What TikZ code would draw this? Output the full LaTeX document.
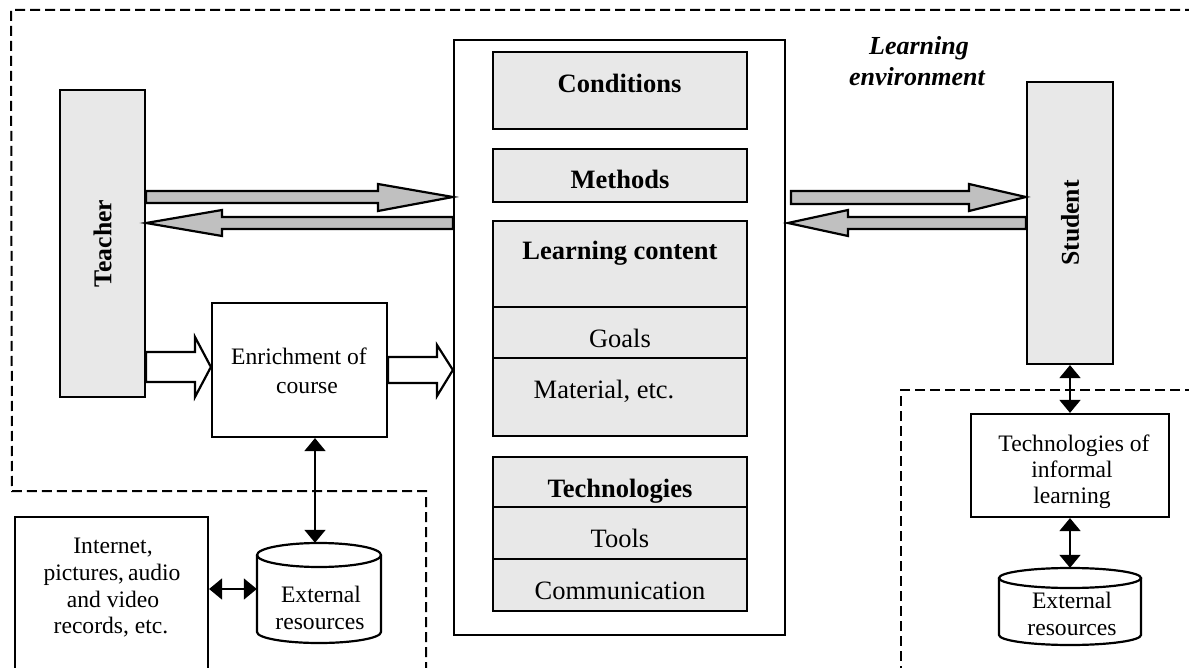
\documentclass[tikz,border=0pt]{standalone}
\usepackage{fontspec}
\setmainfont{Liberation Serif}
\usetikzlibrary{arrows.meta,calc}
\definecolor{boxgray}{RGB}{232,232,232}
\definecolor{arrowgray}{RGB}{192,192,192}
\newcommand\fntA{\fontsize{26.5}{28}\selectfont}
\newcommand\fntB{\fontsize{23.6}{26}\selectfont}
\begin{document}
\begin{tikzpicture}[x=1pt,y=-1pt,
  box/.style={draw, line width=2.2pt, rectangle, inner sep=0pt},
  graybox/.style={box, fill=boxgray},
  cell/.style={graybox, minimum width=254pt},
  txt/.style={anchor=base, inner sep=0pt},
  txtA/.style={txt, font=\fntA},
  txtB/.style={txt, font=\fntB},
  dashline/.style={line width=2pt, dash pattern=on 10pt off 5pt},
  dbl/.style={line width=1.8pt, {Triangle[width=21pt,length=13pt]}-{Triangle[width=21pt,length=13pt]}},
  grayarrow/.style={draw, line width=2.2pt, fill=arrowgray, line join=miter},
  hollowarrow/.style={draw, line width=2.2pt, fill=white, line join=miter},
  cyl/.style={draw, line width=2.2pt}
]
\useasboundingbox (0,0) rectangle (1189,668);

% dashed regions
\draw[dashline] (1195,10) -- (11,10) -- (12,491) -- (426,491) -- (426,672);
\draw[dashline] (1195,390) -- (901,390) -- (901,672);

% main nodes
\node[graybox, minimum width=85pt, minimum height=307pt,
  label={[rotate=90, font=\bfseries\fontsize{25.7}{28}\selectfont]center:Teacher}] (teacher) at (102.5,243.5) {};
\node[graybox, minimum width=86pt, minimum height=282pt,
  label={[rotate=90, font=\bfseries\fontsize{25.7}{28}\selectfont]center:Student}] (student) at (1070,223) {};
\node[box, minimum width=331pt, minimum height=595pt] (core) at (619.5,337.5) {};

\node[cell, minimum height=77pt] (cond) at (620,90.5) {};
\node[cell, minimum height=53pt] (meth) at (620,175.5) {};
\node[cell, minimum height=86pt] (lc) at (620,264) {};
\node[cell, minimum height=51pt] (goals) at (620,332.5) {};
\node[cell, minimum height=78pt] (mat) at (620,397) {};
\node[cell, minimum height=50pt] (tech) at (620,482) {};
\node[cell, minimum height=52pt] (tools) at (620,533) {};
\node[cell, minimum height=52pt] (comm) at (620,585) {};

\node[txtA, font=\fntA\bfseries] at (619.5,93) {Conditions};
\node[txtA, font=\fntA\bfseries] at (620,189) {Methods};
\node[txtA, font=\fntA\bfseries] at (620,260) {Learning content};
\node[txtA] at (620,348) {Goals};
\node[txtA] at (604,399) {Material, etc.};
\node[txtA, font=\fntA\bfseries] at (620,497) {Technologies};
\node[txtA] at (620,547) {Tools};
\node[txtA] at (620,599) {Communication};

\node[txt, font=\fontsize{26}{28}\selectfont\bfseries\itshape] at (919,55) {Learning};
\node[txt, font=\fontsize{26}{28}\selectfont\bfseries\itshape] at (917,86) {environment};

% enrichment
\node[box, fill=white, minimum width=175pt, minimum height=134pt] (enrich) at (299.5,370) {};
\node[txtB] at (299,365) {Enrichment of};
\node[txtB] at (307,393) {course};

% internet box (open at the bottom edge of the picture)
\node[box, fill=white, minimum width=193pt, minimum height=183pt] (internet) at (111.5,608.5) {};
\node[txtB] at (113,553) {Internet,};
\node[txtB] at (112,580) {pictures,\,audio};
\node[txtB] at (113,607) {and video};
\node[txtB] at (111,633) {records, etc.};

% informal learning
\node[box, fill=white, minimum width=198pt, minimum height=103pt] (informal) at (1070,465.5) {};
\node[txtB] at (1074,451) {Technologies of};
\node[txtB] at (1072,477) {informal};
\node[txtB] at (1072,503) {learning};

% cylinders
\node[inner sep=0pt, minimum width=124pt, minimum height=100pt] (extL) at (319,593) {};
\draw[cyl, fill=white] (257,555) -- (257,632) arc[start angle=180, end angle=0, x radius=62, y radius=11] -- (381,555);
\draw[cyl] (319,555) ellipse[x radius=62, y radius=12];
\node[txtB] at (321,602) {External};
\node[txtB] at (320,629) {resources};

\node[inner sep=0pt, minimum width=142pt, minimum height=77pt] (extR) at (1070,606.5) {};
\draw[cyl, fill=white] (999,578) -- (999,635) arc[start angle=180, end angle=0, x radius=71, y radius=10] -- (1141,578);
\draw[cyl] (1070,578) ellipse[x radius=71, y radius=10];
\node[txtB] at (1072,608) {External};
\node[txtB] at (1072,635) {resources};

% gray block arrows
\draw[grayarrow] (teacher.east |- 0,191) -- (378,191) -- (378,184) -- (core.west |- 0,197)
  -- (378,211) -- (378,203) -- (teacher.east |- 0,203) -- cycle;
\draw[grayarrow] (core.west |- 0,217) -- (222,217) -- (222,210) -- (teacher.east |- 0,223)
  -- (222,236) -- (222,229) -- (core.west |- 0,229) -- cycle;
\coordinate (sA) at (791,191);
\coordinate (sB) at (788,223);
\draw[grayarrow] (sA) -- (969,191) -- (969,184) -- (student.west |- 0,197)
  -- (969,211) -- (969,204) -- (791,204) -- cycle;
\draw[grayarrow] (student.west |- 0,217) -- (848,217) -- (848,210) -- (sB)
  -- (848,236) -- (848,229) -- (student.west |- 0,229) -- cycle;

% hollow block arrows
\draw[hollowarrow] (teacher.east |- 0,352) -- (195,352) -- (195,337) -- (enrich.west |- 0,367)
  -- (195,397) -- (195,382) -- (teacher.east |- 0,382) -- cycle;
\draw[hollowarrow] (enrich.east |- 0,357) -- (437,357) -- (437,345) -- (core.west |- 0,370)
  -- (437,396) -- (437,383) -- (enrich.east |- 0,383) -- cycle;

% double-headed connectors
\coordinate (ax1) at (315,0);
\coordinate (ay1) at (0,589);
\draw[dbl] (enrich.south -| ax1) -- (extL.north -| ax1);
\draw[dbl] (internet.east |- ay1) -- (extL.west |- ay1);
\draw[dbl] (student.south) -- (informal.north);
\draw[dbl] (informal.south) -- (extR.north);
\end{tikzpicture}
\end{document}
